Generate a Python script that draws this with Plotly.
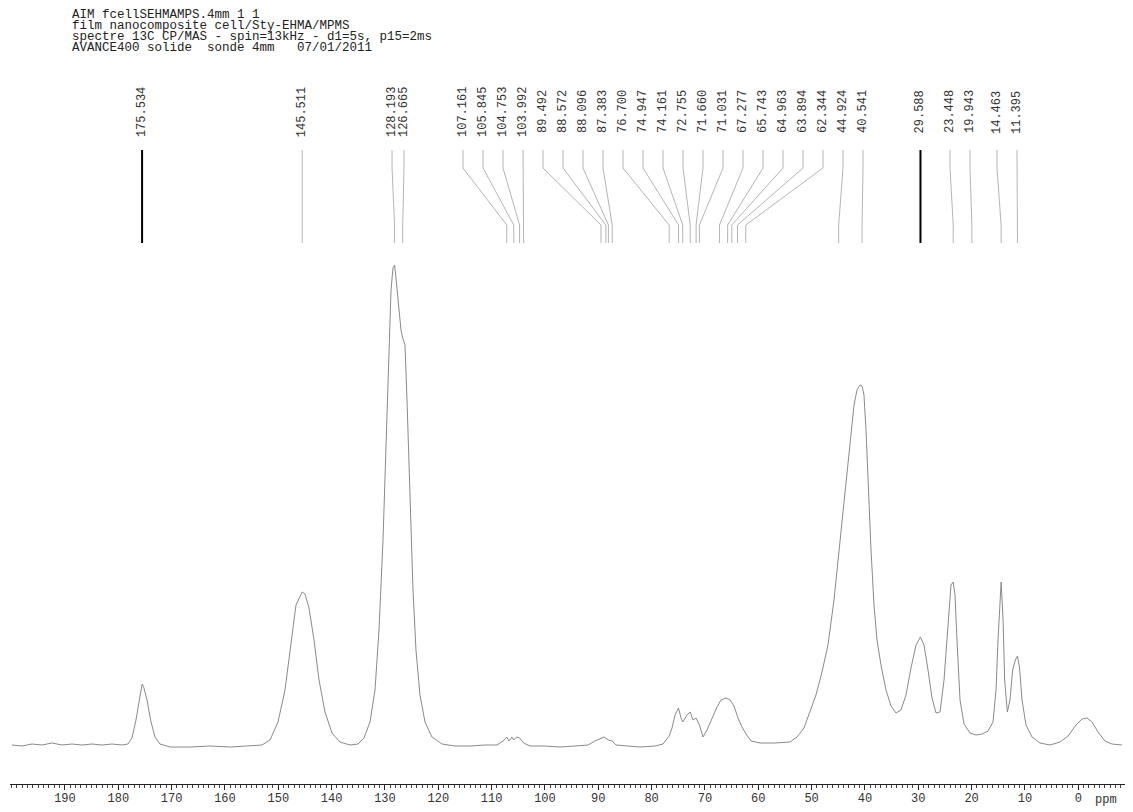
import plotly.graph_objects as go

# ---------------- data ----------------
header_lines = [
    "AIM fcellSEHMAMPS.4mm 1 1",
    "film nanocomposite cell/Sty-EHMA/MPMS",
    "spectre 13C CP/MAS - spin=13kHz - d1=5s, p15=2ms",
    "AVANCE400 solide  sonde 4mm   07/01/2011",
]

spectrum_ppm = [
    199.93, 198.05, 196.18, 194.3, 192.43, 190.55, 188.68, 186.8, 184.93, 183.05,
    181.18, 179.3, 178.18, 177.43, 176.68, 175.93, 175.53, 175.18, 174.61, 173.86,
    173.11, 172.18, 170.3, 166.55, 162.8, 159.05, 155.3, 153.05, 151.55, 150.05,
    148.74, 147.61, 146.68, 145.51, 144.99, 144.24, 143.3, 142.36, 141.24, 139.93,
    138.43, 136.55, 135.05, 133.93, 132.8, 131.86, 131.11, 130.36, 129.8, 129.24,
    128.86, 128.49, 128.19, 127.93, 127.55, 126.99, 126.67, 126.24, 125.86, 125.3,
    124.74, 124.18, 123.43, 122.49, 121.18, 119.3, 116.86, 114.05, 111.24, 108.99,
    107.86, 107.16, 106.74, 106.18, 105.85, 105.3, 104.75, 103.99, 103.3, 102.8,
    99.99, 97.18, 94.37, 91.92, 90.61, 89.49, 88.93, 88.1, 87.38, 86.67,
    84.99, 82.18, 79.36, 77.86, 76.7, 76.17, 75.61, 74.95, 74.49, 74.16,
    73.36, 72.76, 72.24, 71.66, 71.03, 70.36, 69.61, 68.68, 67.74, 66.99,
    66.05, 65.3, 64.55, 63.8, 63.05, 62.3, 61.36, 59.67, 56.86, 54.05,
    52.74, 51.43, 50.3, 49.18, 48.05, 46.93, 45.8, 45.05, 44.3, 43.55,
    42.8, 42.05, 41.49, 40.93, 40.54, 40.18, 39.8, 39.43, 38.86, 38.3,
    37.74, 36.99, 36.05, 35.11, 34.18, 33.24, 32.3, 31.36, 30.42, 29.59,
    28.92, 28.17, 27.42, 26.67, 25.92, 25.17, 24.42, 23.86, 23.45, 23.11,
    22.74, 22.17, 21.42, 20.3, 19.17, 18.05, 16.92, 15.99, 15.42, 15.05,
    14.46, 14.1, 13.8, 13.3, 12.8, 12.3, 11.8, 11.4, 11.0, 10.55,
    9.8, 8.67, 7.17, 5.3, 3.42, 1.92, 0.42, -0.7, -1.64, -2.58,
    -3.7, -5.02, -6.33, -8.2,
]

spectrum_intensity = [
    5, 4, 6, 5, 7, 5, 6, 5, 6, 5,
    6, 5, 6, 12, 30, 55, 66, 62, 50, 28,
    13, 6, 3, 3, 4, 3, 4, 5, 10, 28,
    60, 110, 145, 158, 156, 142, 110, 70, 38, 17,
    8, 5, 6, 12, 28, 60, 120, 210, 310, 410,
    460, 482, 485, 472, 450, 420, 412, 405, 350, 250,
    160, 100, 55, 28, 13, 6, 4, 4, 5, 5,
    9, 13, 9, 13, 10, 13, 12, 7, 5, 4,
    4, 3, 4, 5, 9, 12, 13, 10, 9, 5,
    4, 3, 4, 6, 14, 22, 35, 42, 32, 28,
    35, 38, 30, 32, 25, 13, 20, 32, 43, 50,
    52, 50, 44, 32, 23, 16, 9, 7, 7, 8,
    13, 22, 38, 55, 78, 105, 150, 190, 230, 270,
    310, 345, 360, 365, 364, 355, 320, 270, 200, 145,
    110, 85, 60, 44, 37, 40, 55, 82, 105, 113,
    105, 80, 52, 37, 38, 70, 130, 165, 168, 155,
    110, 50, 26, 17, 15, 16, 19, 28, 60, 110,
    168, 130, 70, 38, 50, 80, 90, 94, 82, 50,
    25, 13, 7, 5, 8, 14, 25, 31, 32, 28,
    18, 9, 6, 5,
]

peak_ppm = [
    175.534, 145.511, 128.193, 126.665, 107.161, 105.845, 104.753, 103.992,
    89.492, 88.572, 88.096, 87.383, 76.700, 74.947, 74.161, 72.755, 71.660,
    71.031, 67.277, 65.743, 64.963, 63.894, 62.344, 44.924, 40.541, 29.588,
    23.448, 19.943, 14.463, 11.395,
]
peak_labels = [
    "175.534", "145.511", "128.193", "126.665", "107.161", "105.845", "104.753", "103.992",
    "89.492", "88.572", "88.096", "87.383", "76.700", "74.947", "74.161", "72.755", "71.660",
    "71.031", "67.277", "65.743", "64.963", "63.894", "62.344", "44.924", "40.541", "29.588",
    "23.448", "19.943", "14.463", "11.395",
]
# where each label sits along the ppm axis (spread apart in the dense region)
label_ppm = [
    175.534, 145.511, 128.67, 126.42, 115.36, 111.61, 107.86, 104.11,
    100.36, 96.61, 92.86, 89.11, 85.36, 81.61, 77.86, 74.11, 70.36,
    66.61, 62.86, 59.11, 55.36, 51.61, 47.86, 44.11, 40.36, 29.588,
    24.05, 20.3, 15.24, 11.49,
]
bold_labels = ["175.534", "29.588"]

tick_values = [190, 180, 170, 160, 150, 140, 130, 120, 110, 100, 90, 80, 70, 60, 50, 40, 30, 20, 10, 0]
tick_text = [str(v) for v in tick_values]

# ---------------- figure ----------------
MONO = "Liberation Mono, DejaVu Sans Mono, monospace"
W, H = 1125, 804          # page adds an 8 px body margin around the figure
ML, MR, MT, MB = 2, 3, 0, 28
PLOT_W = W - ML - MR      # 1120
PLOT_H = H - MT - MB      # 776
OFF = 8                   # body margin offset (page px -> figure px)


def px_x(page_x):
    return (page_x - OFF - ML) / PLOT_W


def px_y(page_y):
    return (H - MB - (page_y - OFF)) / PLOT_H


fig = go.Figure()

fig.add_trace(go.Scatter(
    x=spectrum_ppm, y=spectrum_intensity, mode="lines",
    line=dict(color="#8a8a8a", width=1), hoverinfo="skip", showlegend=False,
))

# label connector lines (vertical, bend, vertical) in data units
Y_TOP, Y_B1, Y_B2, Y_BOT = 600, 582, 525, 507
gx, gy, bx, by = [], [], [], []
for p, lp, txt in zip(peak_ppm, label_ppm, peak_labels):
    xs = [lp, lp, p, p, None]
    ys = [Y_TOP, Y_B1, Y_B2, Y_BOT, None]
    if txt in bold_labels:
        bx += xs; by += ys
    else:
        gx += xs; gy += ys
fig.add_trace(go.Scatter(x=gx, y=gy, mode="lines", line=dict(color="#b4b4b4", width=1),
                         hoverinfo="skip", showlegend=False))
fig.add_trace(go.Scatter(x=bx, y=by, mode="lines", line=dict(color="#000000", width=2),
                         hoverinfo="skip", showlegend=False))

annotations = []
for lp, txt in zip(label_ppm, peak_labels):
    annotations.append(dict(
        x=lp, y=638, xref="x", yref="y", text=txt, showarrow=False,
        textangle=-90, font=dict(family=MONO, size=12, color="#333333"),
        xanchor="center", yanchor="middle",
    ))

for i, line in enumerate(header_lines):
    annotations.append(dict(
        x=px_x(70), y=px_y(15 + 11 * i), xref="paper", yref="paper",
        text=line.replace(" ", "&nbsp;"), showarrow=False, xanchor="left", yanchor="middle",
        font=dict(family=MONO, size=12.5, color="#222222"),
    ))

annotations.append(dict(
    x=px_x(1106), y=px_y(800), xref="paper", yref="paper",
    text="ppm", showarrow=False, xanchor="center", yanchor="middle",
    font=dict(family=MONO, size=12, color="#333333"),
))

fig.update_layout(
    width=W, height=H,
    margin=dict(l=ML, r=MR, t=MT, b=MB),
    paper_bgcolor="white", plot_bgcolor="white",
    showlegend=False,
    annotations=annotations,
    xaxis=dict(
        range=[200.3, -9.7], showgrid=False, zeroline=False,
        showline=True, linecolor="#222222", linewidth=1,
        ticks="outside", ticklen=5, tickwidth=1, tickcolor="#222222",
        tickvals=tick_values, ticktext=tick_text,
        tickfont=dict(family=MONO, size=12, color="#333333"),
        ticklabelstandoff=-2,
        minor=dict(dtick=1, ticks="outside", ticklen=3, tickcolor="#444444", tickwidth=1),
        fixedrange=True,
    ),
    yaxis=dict(
        range=[-34, 742], visible=False, showgrid=False, zeroline=False, fixedrange=True,
    ),
)

fig.write_html("out.html")
